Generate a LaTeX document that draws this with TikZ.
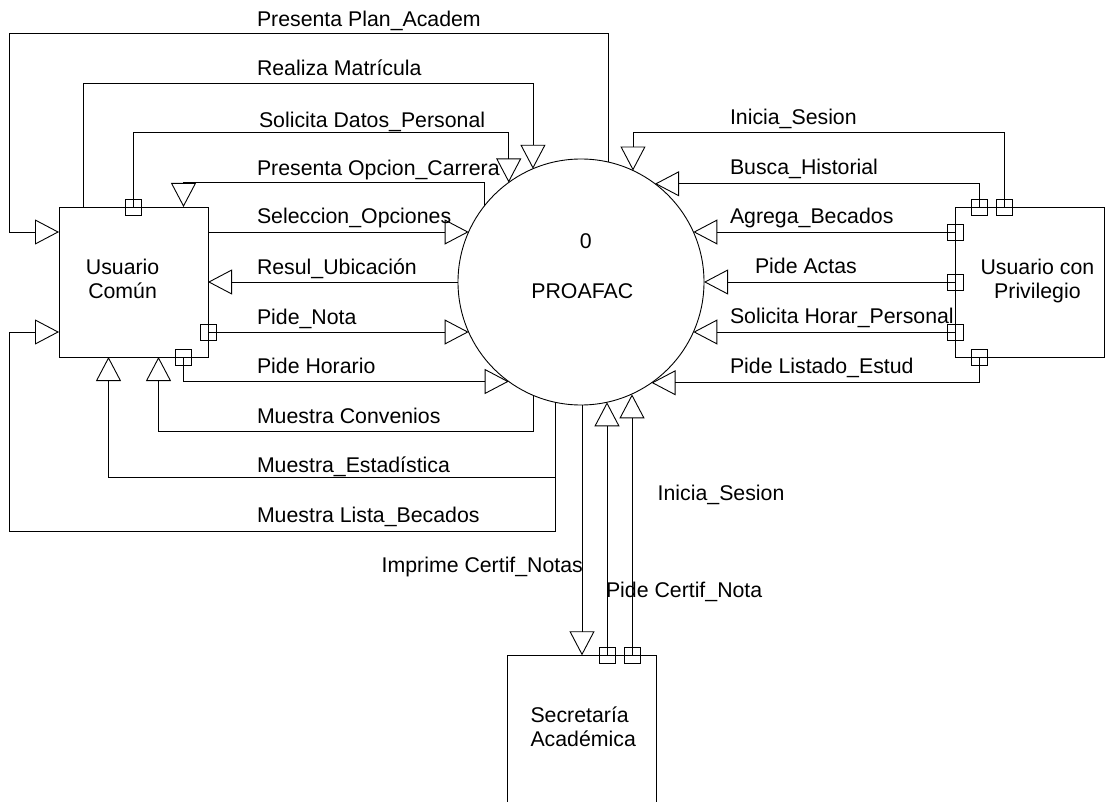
\documentclass[tikz,border=0pt]{standalone}
\usepackage{fontspec}
\setmainfont{Liberation Sans}
\usetikzlibrary{arrows.meta}
\newcommand\lblfont{\fontsize{21.3pt}{24.3pt}\selectfont}
\begin{document}
\begin{tikzpicture}[x=1pt,y=-1pt,
  every node/.style={inner sep=0pt, outer sep=0pt},
  ln/.style={line width=0.9pt, draw=black},
  flow/.style={ln, -{Triangle[open, length=24pt, width=25pt]}},
  box/.style={ln, rectangle, minimum width=149pt, minimum height=150pt},
  port/.style={ln, rectangle, minimum size=16pt},
  lbl/.style={anchor=base west, font=\lblfont},
  ttl/.style={anchor=base, font=\lblfont}]
\useasboundingbox (0,0) rectangle (1105,802);
\clip (0,0) rectangle (1105,802);

% external entities and the process
\node[box] (UC) at (133.5,282) {};
\node[box] (UP) at (1029.75,282) {};
\node[box, minimum height=200pt] (SA) at (582,755.3) {};
\node[circle, ln, minimum size=246pt] (P) at (581,282) {};

% process and entity captions
\node[ttl] (p0) at (585.7,248.3) {0};
\node[ttl] (p1) at (582.3,298.3) {PROAFAC};
\node[ttl] (uc1) at (122.6,274) {Usuario};
\node[ttl] (uc2) at (122.6,298.3) {Común};
\node[ttl] (up1) at (1037.4,274.3) {Usuario con};
\node[ttl] (up2) at (1037.4,298.3) {Privilegio};
\node[lbl] (sa1) at (530.5,722.7) {Secretaría};
\node[lbl] (sa2) at (530.5,746.7) {Académica};

% connection points on the entity boxes
\coordinate (ucN1) at ([xshift=-50pt]UC.north);
\coordinate (ucN2) at (UC.north);
\coordinate (ucN3) at ([xshift=50pt]UC.north);
\coordinate (ucE1) at ([yshift=50pt]UC.east);
\coordinate (ucE2) at (UC.east);
\coordinate (ucE3) at ([yshift=-50pt]UC.east);
\coordinate (ucW1) at ([yshift=50pt]UC.west);
\coordinate (ucW3) at ([yshift=-50pt]UC.west);
\coordinate (ucS1) at ([xshift=-25pt]UC.south);
\coordinate (ucS2) at ([xshift=25pt]UC.south);
\coordinate (ucS3) at ([xshift=50pt]UC.south);
\coordinate (upN1) at ([xshift=-50pt]UP.north);
\coordinate (upN2) at ([xshift=-25pt]UP.north);
\coordinate (upW1) at ([yshift=50pt]UP.west);
\coordinate (upW2) at (UP.west);
\coordinate (upW3) at ([yshift=-50pt]UP.west);
\coordinate (upS1) at ([xshift=-50pt]UP.south);
\coordinate (saN0) at (SA.north);
\coordinate (saN1) at ([xshift=25pt]SA.north);
\coordinate (saN2) at ([xshift=50pt]SA.north);

% routing rows and columns
\coordinate (yA) at (0,33);
\coordinate (yB) at (0,83.3);
\coordinate (yC) at (0,132.7);
\coordinate (yD) at (0,182.7);
\coordinate (yE) at (0,431.3);
\coordinate (yF) at (0,477.3);
\coordinate (yG) at (0,531);
\coordinate (xL) at (9.5,0);

% flows of Usuario Comun
\draw[flow] (P.77.8) |- (yA -| xL) |- (ucW1);
\draw[flow] (ucN1) |- (yB -| P.113) -- (P.113);
\draw[flow] (ucN2) |- (yC -| P.126.4) -- (P.126.4);
\draw[flow] (P.142.8) |- (yD -| ucN3) -- (ucN3);
\draw[flow] (ucE1) -- (ucE1 -| P.156);
\draw[flow] (P.west) -- (ucE2);
\draw[flow] (ucE3) -- (ucE3 -| P.204);
\draw[flow] (ucS3) |- (P.234.4);
\draw[flow] (P.247) |- (yE -| ucS2) -- (ucS2);
\draw[flow] (P.258.75) |- (yF -| ucS1) -- (ucS1);
\draw[flow] (P.258.75) |- (yG -| xL) |- (ucW3);

% flows of Usuario con Privilegio
\draw[flow] (upN2) |- (yC -| P.65.5) -- (P.65.5);
\draw[flow] (upN1) |- (P.53.8);
\draw[flow] (upW1) -- (upW1 -| P.24);
\draw[flow] (upW2) -- (P.east);
\draw[flow] (upW3) -- (upW3 -| P.336);
\draw[flow] (upS1) |- (P.305.6);

% flows of Secretaria Academica
\draw[flow] (saN0 |- P.south) -- (saN0);
\draw[flow] (saN1) -- (saN1 |- P.282.2);
\draw[flow] (saN2) -- (saN2 |- P.294.5);

% source markers
\foreach \c/\n in {ucN2/q1, ucE3/q2, ucS3/q3, upN1/q4, upN2/q5, upW1/q6,
                   upW2/q7, upW3/q8, upS1/q9, saN1/q10, saN2/q11}
  \node[port] (\n) at (\c) {};

% flow labels
\node[lbl] (l1) at (257,26.5) {Presenta Plan\_Academ};
\node[lbl] (l2) at (257,76) {Realiza Matrícula};
\node[lbl] (l3) at (259,127.5) {Solicita Datos\_Personal};
\node[lbl] (l4) at (257,176) {Presenta Opcion\_Carrera};
\node[lbl] (l5) at (257,224) {Seleccion\_Opciones};
\node[lbl] (l6) at (257,274.3) {Resul\_Ubicación};
\node[lbl] (l7) at (257,324.3) {Pide\_Nota};
\node[lbl] (l8) at (257,373.3) {Pide Horario};
\node[lbl] (l9) at (257,423.3) {Muestra Convenios};
\node[lbl] (l10) at (257,472.7) {Muestra\_Estadística};
\node[lbl] (l11) at (257,522.7) {Muestra Lista\_Becados};
\node[lbl] (r1) at (730,125) {Inicia\_Sesion};
\node[lbl] (r2) at (730,175) {Busca\_Historial};
\node[lbl] (r3) at (730,223.3) {Agrega\_Becados};
\node[lbl] (r4) at (755,273.3) {Pide Actas};
\node[lbl] (r5) at (730,323) {Solicita Horar\_Personal};
\node[lbl] (r6) at (730,373.3) {Pide Listado\_Estud};
\node[lbl] (b1) at (381.7,572.7) {Imprime Certif\_Notas};
\node[lbl] (b2) at (606,597.3) {Pide Certif\_Nota};
\node[lbl] (b3) at (657.7,500) {Inicia\_Sesion};
\end{tikzpicture}
\end{document}
